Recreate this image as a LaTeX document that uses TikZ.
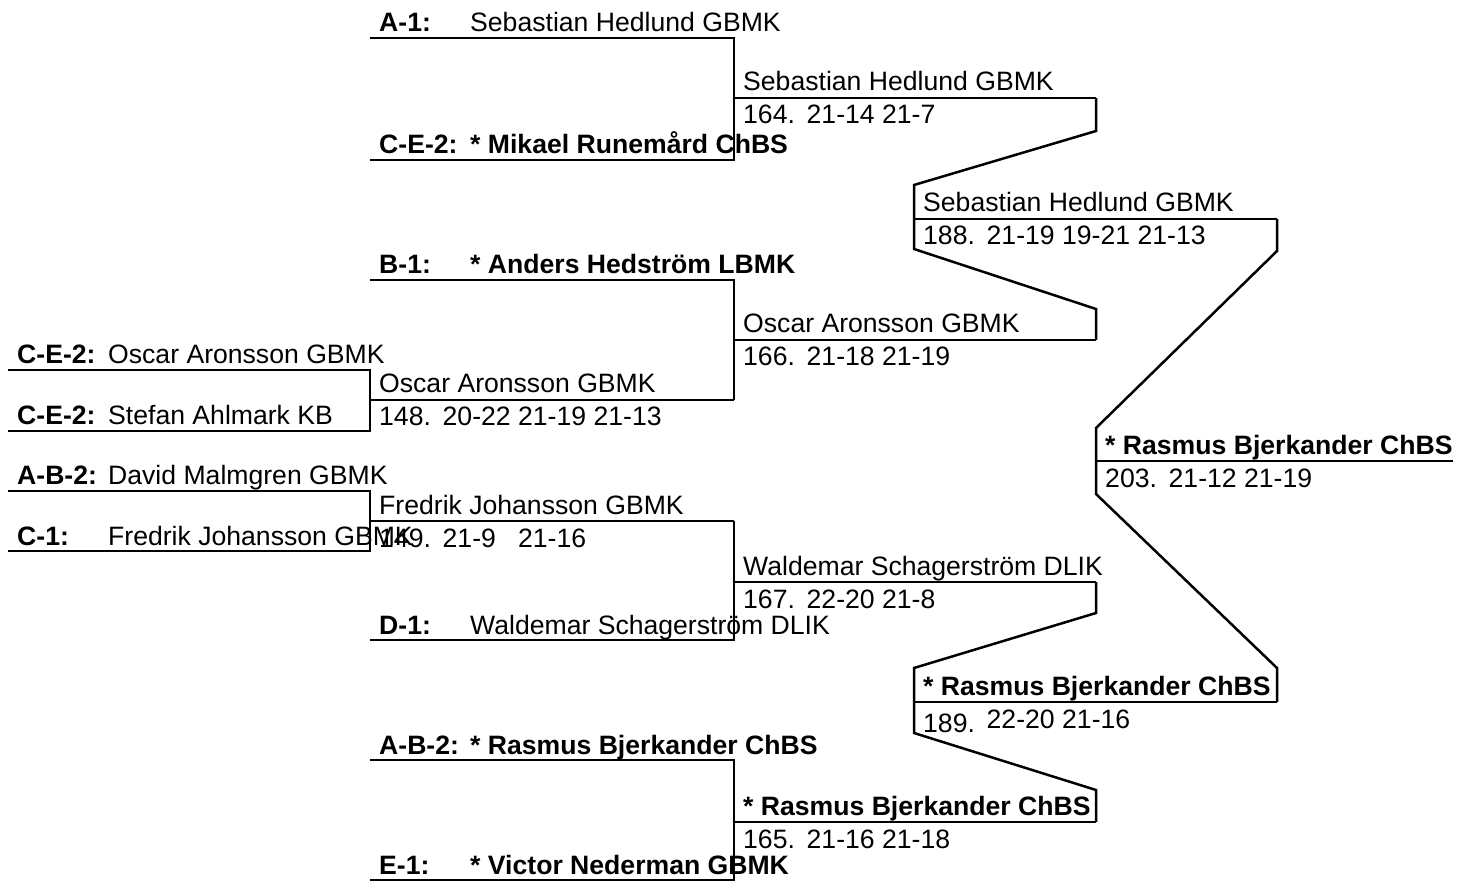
\documentclass[tikz,border=0pt]{standalone}
\usepackage{fontspec}
\setmainfont{Liberation Sans}
\usepackage{tikz}
\usetikzlibrary{positioning}

\newcommand\matchno[1]{\makebox[63.5pt][l]{#1}}
\newcommand\gamescore[1]{\makebox[75.5pt][l]{#1}}

\begin{document}
\begin{tikzpicture}[x=1pt, y=-1pt,
  bracket/.style={line width=2.5pt, draw=black},
  txt/.style={anchor=base west, inner sep=0pt, font=\fontsize{26.6}{30}\selectfont},
  seedtag/.style={txt, font=\fontsize{26.6}{30}\selectfont\bfseries, xshift=9pt, yshift=6pt},
  entrant/.style={txt, xshift=100pt, yshift=6pt},
  winner/.style={txt, xshift=9pt, yshift=7pt},
  result/.style={txt, xshift=9pt, yshift=-26pt}
]
\useasboundingbox (0,0) rectangle (1457,882);

% slots
\coordinate (q1) at (8,370);
\coordinate (q2) at (8,431);
\coordinate (q3) at (8,491);
\coordinate (q4) at (8,551);
\coordinate (p1) at (370,38);
\coordinate (p2) at (370,160);
\coordinate (p3) at (370,280);
\coordinate (p4) at (370,400);
\coordinate (p5) at (370,521);
\coordinate (p6) at (370,640);
\coordinate (p7) at (370,760);
\coordinate (p8) at (370,880);
\coordinate (m164) at (734,98);
\coordinate (m166) at (734,340);
\coordinate (m167) at (734,582);
\coordinate (m165) at (734,822);
\coordinate (m188) at (914,219);
\coordinate (m189) at (914,702);
\coordinate (t188) at (1277,219);
\coordinate (m203) at (1096,461);

% lines
\draw[bracket] (q1) -- (q1 -| p1) -- (q2 -| p1) -- (q2);
\draw[bracket] (q3) -- (q3 -| p1) -- (q4 -| p1) -- (q4);
\draw[bracket] (p4) -- (p4 -| m164);
\draw[bracket] (p5) -- (p5 -| m164);
\draw[bracket] (p1) -- (p1 -| m164) -- (p2 -| m164) -- (p2);
\draw[bracket] (p3) -- (p3 -| m164) -- (p4 -| m164);
\draw[bracket] (p5 -| m164) -- (p6 -| m164) -- (p6);
\draw[bracket] (p7) -- (p7 -| m164) -- (p8 -| m164) -- (p8);
\draw[bracket] (m164) -- (m164 -| m203);
\draw[bracket] (m166) -- (m166 -| m203);
\draw[bracket] (m167) -- (m167 -| m203);
\draw[bracket] (m165) -- (m165 -| m203);
\draw[bracket] (m164 -| m203) -- ++(0,33) -- ++(-182,54) -- ++(0,64) -- ++(182,60) -- (m166 -| m203);
\draw[bracket] (m167 -| m203) -- ++(0,31) -- ++(-182,55) -- ++(0,65) -- ++(182,57) -- (m165 -| m203);
\draw[bracket] (m188) -- (t188);
\draw[bracket] (m189) -- (m189 -| t188);
\draw[bracket] (t188) -- ++(0,32) -- ++(-181,177) -- ++(0,66) -- ++(181,174) -- (m189 -| t188);
\draw[bracket] (m203) -- ++(357,0);

% first round
\node[seedtag] (tq1) at (q1) {C-E-2:};
\node[entrant] (nq1) at (q1) {Oscar Aronsson GBMK};
\node[seedtag] (tq2) at (q2) {C-E-2:};
\node[entrant] (nq2) at (q2) {Stefan Ahlmark KB};
\node[seedtag] (tq3) at (q3) {A-B-2:};
\node[entrant] (nq3) at (q3) {David Malmgren GBMK};
\node[seedtag] (tq4) at (q4) {C-1:};
\node[entrant] (nq4) at (q4) {Fredrik Johansson GBMK};
\node[winner] (w148) at (p4) {Oscar Aronsson GBMK};
\node[result] (r148) at (p4) {\matchno{148.}\gamescore{20-22}\gamescore{21-19}21-13};
\node[winner] (w149) at (p5) {Fredrik Johansson GBMK};
\node[result] (r149) at (p5) {\matchno{149.}\gamescore{21-9}21-16};

% second round
\node[seedtag] (tp1) at (p1) {A-1:};
\node[entrant] (np1) at (p1) {Sebastian Hedlund GBMK};
\node[seedtag] (tp2) at (p2) {C-E-2:};
\node[entrant, font=\fontsize{26.6}{30}\selectfont\bfseries] (np2) at (p2) {* Mikael Runemård ChBS};
\node[seedtag] (tp3) at (p3) {B-1:};
\node[entrant, font=\fontsize{26.6}{30}\selectfont\bfseries] (np3) at (p3) {* Anders Hedström LBMK};
\node[seedtag] (tp6) at (p6) {D-1:};
\node[entrant] (np6) at (p6) {Waldemar Schagerström DLIK};
\node[seedtag] (tp7) at (p7) {A-B-2:};
\node[entrant, font=\fontsize{26.6}{30}\selectfont\bfseries] (np7) at (p7) {* Rasmus Bjerkander ChBS};
\node[seedtag] (tp8) at (p8) {E-1:};
\node[entrant, font=\fontsize{26.6}{30}\selectfont\bfseries] (np8) at (p8) {* Victor Nederman GBMK};

\node[winner] (w164) at (m164) {Sebastian Hedlund GBMK};
\node[result] (r164) at (m164) {\matchno{164.}\gamescore{21-14}21-7};
\node[winner] (w166) at (m166) {Oscar Aronsson GBMK};
\node[result] (r166) at (m166) {\matchno{166.}\gamescore{21-18}21-19};
\node[winner] (w167) at (m167) {Waldemar Schagerström DLIK};
\node[result] (r167) at (m167) {\matchno{167.}\gamescore{22-20}21-8};
\node[winner, font=\fontsize{26.6}{30}\selectfont\bfseries] (w165) at (m165) {* Rasmus Bjerkander ChBS};
\node[result] (r165) at (m165) {\matchno{165.}\gamescore{21-16}21-18};

% semifinals and final
\node[winner] (w188) at (m188) {Sebastian Hedlund GBMK};
\node[result] (r188) at (m188) {\matchno{188.}\gamescore{21-19}\gamescore{19-21}21-13};
\node[winner, font=\fontsize{26.6}{30}\selectfont\bfseries] (w189) at (m189) {* Rasmus Bjerkander ChBS};
\node[result] (r189) at (m189) {\matchno{\raisebox{-4pt}{189.}}\gamescore{22-20}21-16};
\node[winner, font=\fontsize{26.6}{30}\selectfont\bfseries] (w203) at (m203) {* Rasmus Bjerkander ChBS};
\node[result] (r203) at (m203) {\matchno{203.}\gamescore{21-12}21-19};
\end{tikzpicture}
\end{document}
